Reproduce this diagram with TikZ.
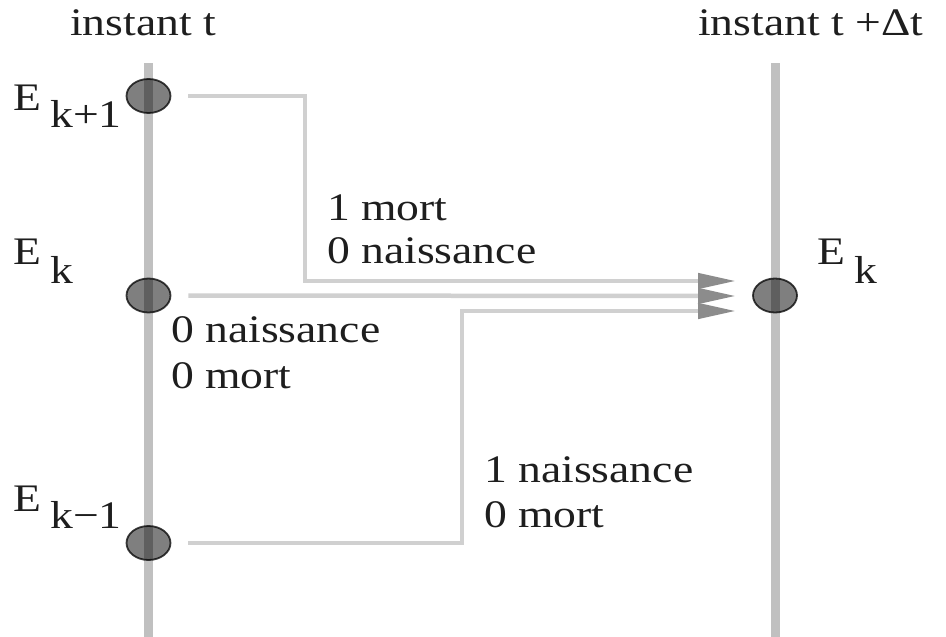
\documentclass[tikz,border=0pt]{standalone}
\usepackage{fontspec}
\setmainfont{Liberation Serif}
\usetikzlibrary{arrows.meta,shapes.geometric}
\definecolor{axisgray}{HTML}{C0C0C0}
\definecolor{linkgray}{HTML}{D0D0D0}
\definecolor{tipgray}{HTML}{8C8C8C}
\definecolor{inkgray}{HTML}{1E1E1E}
\begin{document}
\begin{tikzpicture}[x=1pt,y=-1pt,
  timeline/.style={draw=axisgray,line width=9pt},
  statedot/.style={ellipse,minimum width=44pt,minimum height=34pt,inner sep=0pt,
    fill=black,fill opacity=0.5,draw=black,draw opacity=0.75,line width=1.8pt},
  link/.style={draw=linkgray,line width=4.5pt,shorten <=17pt,
    -{Triangle[length=38pt,width=15pt,color=tipgray]}},
  lbl/.style={anchor=base west,inner sep=0pt,text=inkgray,
    font=\fontsize{39}{45}\selectfont,xscale=1.17}]
  \useasboundingbox (0,0) rectangle (946,637);

  % the two time axes
  \coordinate (ltop) at (148.5,63);
  \coordinate (lbot) at (148.5,637);
  \coordinate (rtop) at (775,63);
  \coordinate (rbot) at (775,637);
  \draw[timeline] (ltop) -- (lbot);
  \draw[timeline] (rtop) -- (rbot);

  % headings
  \node[lbl] (hleft) at (70,35) {instant t};
  \node[lbl] (hright) at (698,35) {instant t +Δt};

  % states
  \node[statedot] (kp1) at (148.5,96) {};
  \node[statedot] (k0) at (148.5,295.5) {};
  \node[statedot] (km1) at (148.5,543) {};
  \node[statedot] (kr) at (775,295.5) {};

  % state labels
  \node[lbl] (Ekp1) at (13,110) {E};
  \node[lbl] (skp1) at (50,127) {k+1};
  \node[lbl] (Ek0) at (13,264) {E};
  \node[lbl] (sk0) at (50,283) {k};
  \node[lbl] (Ekm1) at (13,511) {E};
  \node[lbl] (skm1) at (50,528) {k−1};
  \node[lbl] (Ekr) at (817,264) {E};
  \node[lbl] (skr) at (854,283) {k};

  % arrival points and bends
  \coordinate (inA) at (736,281);
  \coordinate (inB) at (736,296);
  \coordinate (inC) at (736,311);
  \coordinate (bendA) at (305,281);
  \coordinate (bendC) at (462,311);

  % transitions
  \draw[link] (kp1.east) -| (bendA) -- (inA);
  \draw[link] (k0.east) -- (inB);
  \draw[link] (km1.east) -| (bendC) -- (inC);

  % transition labels
  \node[lbl] (mA1) at (327,220) {1 mort};
  \node[lbl] (mA2) at (327,263) {0 naissance};
  \node[lbl] (mB1) at (171,342) {0 naissance};
  \node[lbl] (mB2) at (171,388) {0 mort};
  \node[lbl] (mC1) at (484,482) {1 naissance};
  \node[lbl] (mC2) at (484,527) {0 mort};
\end{tikzpicture}
\end{document}
